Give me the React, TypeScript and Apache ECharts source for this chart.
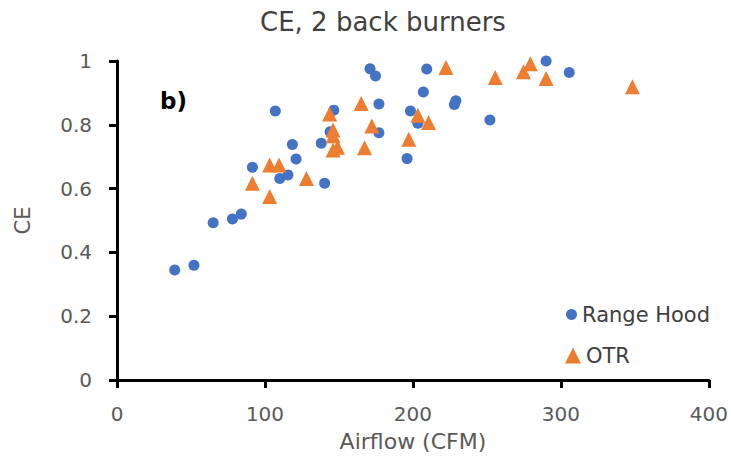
import React, { useEffect, useRef } from "react";
import * as echarts from "echarts";

const seriesNames = ["Range Hood", "OTR"];

const rangeHoodAirflow = [39, 52, 65, 78, 84, 91.5, 107, 110, 115.5, 118.5, 121, 138, 140.3, 144, 146.5, 171, 174.7, 177, 177, 196, 198.3, 203.3, 207, 209.3, 228, 229, 252, 290, 305.6];
const rangeHoodCE = [0.345, 0.36, 0.493, 0.505, 0.52, 0.667, 0.843, 0.632, 0.643, 0.738, 0.693, 0.742, 0.617, 0.778, 0.846, 0.976, 0.953, 0.865, 0.775, 0.694, 0.843, 0.805, 0.903, 0.975, 0.864, 0.875, 0.815, 1.0, 0.964];

const otrAirflow = [91.5, 103.2, 103.2, 109.5, 128, 143.7, 146, 146, 146, 149, 165, 167.3, 172.2, 197.2, 203.3, 210.5, 222.3, 255.6, 274.7, 279.3, 290, 348.3];
const otrCE = [0.617, 0.575, 0.674, 0.674, 0.632, 0.834, 0.784, 0.766, 0.721, 0.73, 0.867, 0.728, 0.796, 0.755, 0.83, 0.807, 0.98, 0.948, 0.966, 0.991, 0.945, 0.919];

const xTicks = [0, 100, 200, 300, 400];
const yTicks = [0, 0.2, 0.4, 0.6, 0.8, 1];

const FONT = "'DejaVu Sans', sans-serif";

export default function App() {
  const ref = useRef<HTMLDivElement>(null);
  useEffect(() => {
    if (!ref.current) return;
    const chart = echarts.init(ref.current, null, { renderer: "svg" });
    const rh = rangeHoodAirflow.map((x, i) => [x, rangeHoodCE[i]]);
    const otr = otrAirflow.map((x, i) => [x, otrCE[i]]);
    chart.setOption({
      animation: false,
      backgroundColor: "#ffffff",
      textStyle: { fontFamily: FONT },
      title: {
        text: "CE, 2 back burners",
        left: 255,
        top: 4,
        textStyle: { fontFamily: FONT, fontSize: 26, fontWeight: "normal", color: "#404040" },
      },
      grid: { left: 117, right: 21, top: 61, bottom: 80, containLabel: false },
      xAxis: {
        type: "value",
        min: xTicks[0],
        max: xTicks[xTicks.length - 1],
        interval: 100,
        name: "Airflow (CFM)",
        nameLocation: "middle",
        nameGap: 50,
        nameTextStyle: { fontFamily: FONT, fontSize: 22, color: "#595959" },
        axisLine: { show: true, lineStyle: { color: "#000", width: 3 } },
        axisTick: { show: true, length: 8, lineStyle: { color: "#000", width: 3 } },
        axisLabel: { margin: 24, fontFamily: FONT, fontSize: 20, color: "#595959" },
        splitLine: { show: false },
      },
      yAxis: {
        type: "value",
        min: yTicks[0],
        max: yTicks[yTicks.length - 1],
        interval: 0.2,
        name: "CE",
        nameLocation: "middle",
        nameGap: 84,
        nameTextStyle: { fontFamily: FONT, fontSize: 21, color: "#595959" },
        axisLine: { show: true, lineStyle: { color: "#000", width: 3 } },
        axisTick: { show: true, length: 8, lineStyle: { color: "#000", width: 3 } },
        axisLabel: { margin: 25, fontFamily: FONT, fontSize: 20, color: "#595959" },
        splitLine: { show: false },
      },
      legend: [
        {
          data: [{ name: seriesNames[0], icon: "circle" }],
          left: 561,
          top: 299,
          itemWidth: 11,
          itemHeight: 11,
          itemGap: 0,
          itemTextGap: 9,
          textStyle: { fontFamily: FONT, fontSize: 21, color: "#404040" },
        },
        {
          data: [{ name: seriesNames[1], icon: "triangle" }],
          left: 560,
          top: 340,
          itemWidth: 16,
          itemHeight: 16,
          itemGap: 0,
          itemTextGap: 5,
          textStyle: { fontFamily: FONT, fontSize: 21, color: "#404040" },
        },
      ],
      graphic: [
        {
          type: "text",
          left: 160,
          top: 89,
          style: { text: "b)", fontFamily: FONT, fontSize: 23, fontWeight: "bold", fill: "#000" },
        },
      ],
      series: [
        {
          name: seriesNames[0],
          type: "scatter",
          symbol: "circle",
          symbolSize: 11,
          itemStyle: { color: "#4472C4", opacity: 1 },
          data: rh,
        },
        {
          name: seriesNames[1],
          type: "scatter",
          symbol: "triangle",
          symbolSize: 15,
          itemStyle: { color: "#ED7D31", opacity: 1 },
          data: otr,
        },
      ],
    });
    return () => chart.dispose();
  }, []);
  return <div ref={ref} style={{ width: 731, height: 460, position: "absolute", left: 0, top: 0 }} />;
}
